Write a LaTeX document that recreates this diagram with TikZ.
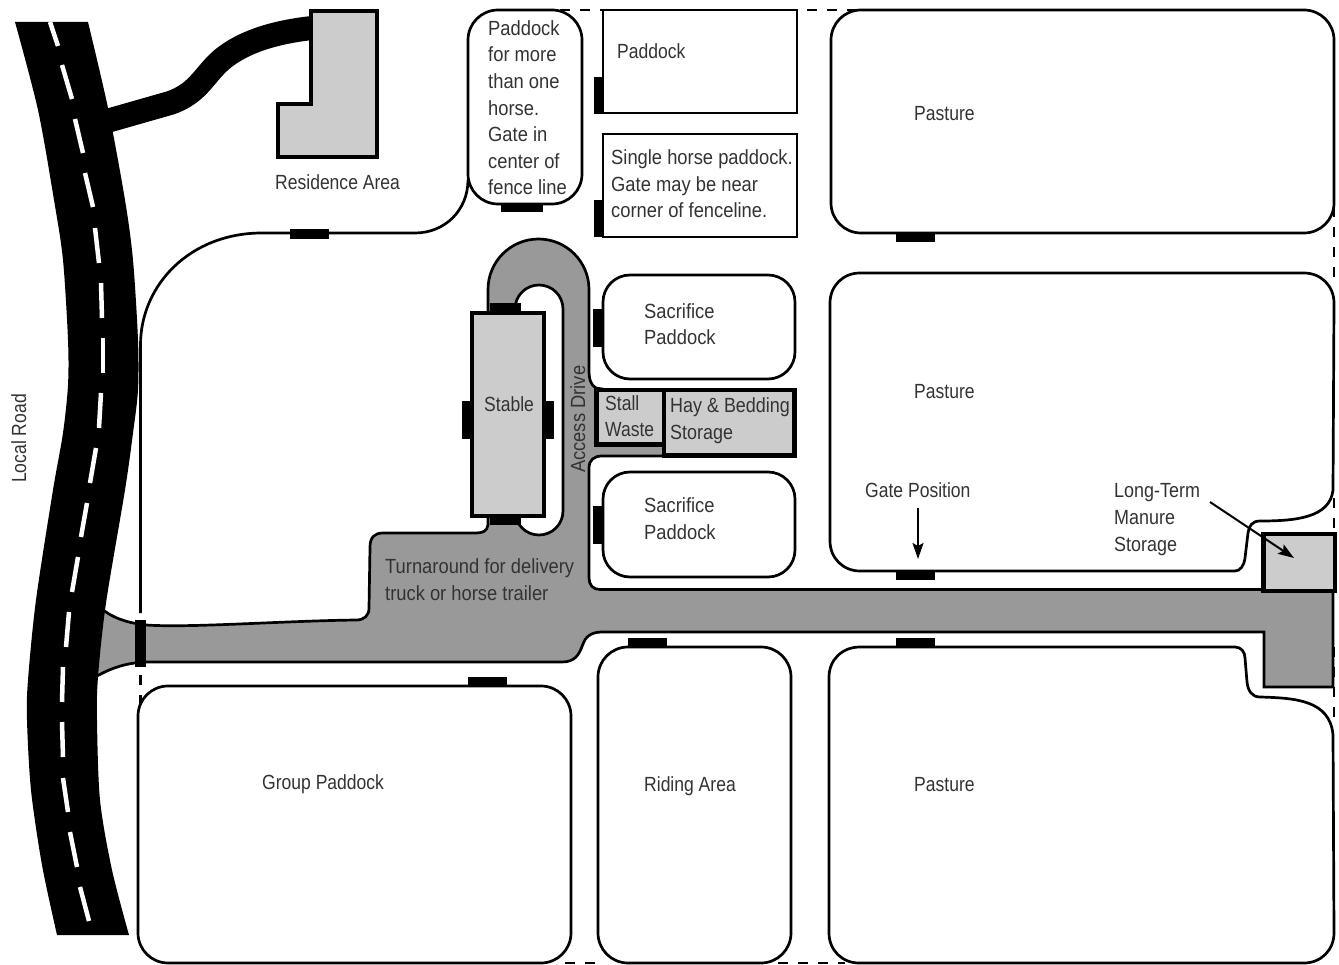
\documentclass[tikz,border=0pt]{standalone}
\usepackage{fontspec}
\setmainfont[FakeStretch=0.855]{Liberation Sans}
\newfontfamily\widerface[FakeStretch=0.895]{Liberation Sans}
\newfontfamily\midface[FakeStretch=0.875]{Liberation Sans}
\usetikzlibrary{arrows.meta}
\definecolor{drivegray}{HTML}{999999}
\definecolor{bldggray}{HTML}{CCCCCC}
\definecolor{labelink}{HTML}{333333}
\tikzset{
  fence/.style={draw=black,line width=2.7pt,fill=white},
  fenceline/.style={draw=black,line width=2.7pt},
  perimeter/.style={draw=black,line width=2.7pt,dash pattern=on 10pt off 10pt},
  building/.style={draw=black,line width=4.6pt,fill=bldggray,miter limit=10},
  gatebar/.style={fill=black},
  lbl/.style={anchor=base west,inner sep=0pt,text=labelink,align=left,font=\fontsize{20.5}{26.6}\selectfont},
  lblwide/.style={lbl,font=\widerface\fontsize{20.5}{26.6}\selectfont},
  lblmid/.style={lbl,font=\midface\fontsize{20.5}{26.6}\selectfont},
  pointer/.style={draw=black,line width=2pt,-{Stealth[length=16pt,width=11pt,inset=3pt]}}
}
\begin{document}
\begin{tikzpicture}[x=1pt,y=-1pt]
\useasboundingbox (0,0) rectangle (1339,965);
% perimeter dashes
\draw[perimeter] (140.5,675) -- (140.5,720);
\draw[perimeter] (560,10) -- (603,10);
\draw[perimeter] (807,10) -- (855,10);
\draw[perimeter] (1334,207) -- (1334,280);
\draw[perimeter] (1334,498) -- (1334,530);
\draw[perimeter] (1334,647) -- (1334,720);
\draw[perimeter] (565,963) -- (600,963);
\draw[perimeter] (778,963) -- (845,963);
% residence fence line
\draw[fenceline] (140.5,613) -- (140.5,345) .. controls (140.5,285) and (190,233) .. (262,233) -- (415,233) .. controls (445,233) and (468,210) .. (468,180);
% pastures and paddocks
\draw[fence,rounded corners=30pt] (831,10) rectangle (1334,233);
\draw[fence] (860,273) -- (1304,273) .. controls (1321,273) and (1334,286) .. (1334,303) -- (1333,490)
  .. controls (1330,518) and (1295,521) .. (1260,521) .. controls (1252,521) and (1249,526) .. (1248,533)
  -- (1245,558) .. controls (1244,566) and (1240,571) .. (1235,571) -- (860,571)
  .. controls (843,571) and (830,558) .. (830,541) -- (830,303) .. controls (830,286) and (843,273) .. (860,273) -- cycle;
\draw[fence] (860,647) -- (1235,647) .. controls (1241,647) and (1245,652) .. (1245,658)
  -- (1247,682) .. controls (1248,691) and (1252,697) .. (1260,697) .. controls (1295,698) and (1330,700) .. (1333,735)
  -- (1334,933) .. controls (1334,950) and (1321,963) .. (1304,963) -- (859,963)
  .. controls (842,963) and (829,950) .. (829,933) -- (829,677) .. controls (829,660) and (842,647) .. (860,647) -- cycle;
\draw[fence,rounded corners=30pt] (138,686) rectangle (571,963);
\draw[fence,rounded corners=30pt] (598,647) rectangle (791,963);
\draw[fence,rounded corners=27pt] (603,275) rectangle (795,379);
\draw[fence,rounded corners=27pt] (603,472) rectangle (795,577);
\draw[fence] (603,10) rectangle (797,113);
\draw[fence] (603,134) rectangle (797,237);
\draw[fence,rounded corners=30pt] (468,10) rectangle (582,204);
% drive
\draw[fence,fill=drivegray] (90,595) .. controls (100,612) and (118,622) .. (146,625)
  .. controls (190,628) and (280,621) .. (356,620) .. controls (364,620) and (369,616) .. (369,608)
  -- (370,547) .. controls (370,538) and (374,533) .. (383,533) -- (476,533)
  .. controls (483,533) and (487,531) .. (488,525) -- (488,289.5)
  arc[start angle=180,end angle=360,radius=50.5] -- (589,370)
  .. controls (589,380) and (591,385) .. (596,388) -- (670,400) -- (670,456) -- (602,456)
  .. controls (594,456) and (589,460) .. (589,468) -- (589,578) .. controls (589,585) and (593,589.5) .. (600,589.5)
  -- (1333,589.5) -- (1333,687) -- (1264,687) -- (1264,632) -- (602,632)
  .. controls (590,632) and (585,638) .. (583,644) .. controls (579,655) and (575,662) .. (562,662)
  -- (146,662) .. controls (125,663) and (110,668) .. (90,680) -- cycle;
\draw[fence] (515,309) arc[start angle=180,end angle=360,radius=24] -- (563,511) arc[start angle=0,end angle=180,radius=24] -- cycle;
% road
\fill[black] plot[smooth] coordinates {(15,22) (38,110) (54,200) (63,260) (68,340) (68,385) (63,433) (53,490) (36,600) (28,680) (27,720) (31,790) (42,865) (57,935)}
  -- plot[smooth] coordinates {(129,935) (112,870) (100,800) (97,720) (98,677) (106,603) (125,490) (133,433) (138,390) (138,340) (133,260) (125,200) (108,108) (88,22)} -- cycle;
\foreach \xa/\ya/\xb/\yb in {50/22/58/46,62/65/72/99,75/119/83/153,85/173/93/207,95/228/99/263,101/283/102/318,103/338/103/373,101/393/99/428,96/448/90/483,87/503/81/537,78/557/72/592,69/612/66/647,63/667/62/702,62/722/63/757,63/778/68/812,70/832/77/867,80/887/89/921}
  \draw[white,line width=4.5pt] (\xa,\ya) -- (\xb,\yb);
% residence drive and building
\draw[black,line width=24pt] (100,123) -- (170,103) .. controls (200,93) and (205,72) .. (225,57) .. controls (250,38) and (285,31) .. (312,28);
\draw[building] (311,11) -- (377,11) -- (377,157) -- (278,157) -- (278,104) -- (311,104) -- cycle;
% stable, storage
\draw[building] (472,313) rectangle (544,516);
\draw[building] (596.5,390) rectangle (664,444.5);
\draw[building] (664,390) rectangle (794.5,455.5);
\draw[building] (1263.5,534) rectangle (1335,591);
% gates
\foreach \x/\y/\w/\h in {290/229/39/10, 501/203/42/9, 594/77/10/37, 594/200/10/37, 593/309/11/38, 593/506/11/38, 896/233/39/9, 896/571/39/9, 896/638/39/9, 628/638/39/9, 468/677/39/9, 490/303/31/10, 490/516/31/9, 462/401/10/38, 543/401/11/38, 135/620/11/47}
  \fill[gatebar] (\x,\y) rectangle ++(\w,\h);
% labels
\node[lbl] (residence) at (275,190) {Residence Area};
\node[lblwide] (pmore) at (488,195) {Paddock\\for more\\than one\\horse.\\Gate in\\center of\\fence line};
\node[lbl] (paddock) at (617,59) {Paddock};
\node[lblwide] (single) at (611,218) {Single horse paddock.\\Gate may be near\\corner of fenceline.};
\node[lbl] (past1) at (914,121) {Pasture};
\node[lbl] (past2) at (914,399) {Pasture};
\node[lbl] (past3) at (914,791) {Pasture};
\node[lblwide] (sac1) at (644,345) {Sacrifice\\Paddock};
\node[lblwide] (sac2) at (644,539) {Sacrifice\\Paddock};
\node[lbl] (stable) at (484,412) {Stable};
\node[lbl] (stall) at (605,437) {Stall\\Waste};
\node[lblmid] (hay) at (670,439) {Hay \& Bedding\\Storage};
\node[lblwide,rotate=90] (access) at (585,473) {Access Drive};
\node[lbl] (gatepos) at (865,497) {Gate Position};
\node[lblmid] (ltm) at (1114,551) {Long-Term\\Manure\\Storage};
\node[lblwide] (turn) at (385,600) {Turnaround for delivery\\truck or horse trailer};
\node[lbl] (group) at (262,789) {Group Paddock};
\node[lbl] (riding) at (644,791) {Riding Area};
\node[lbl,rotate=90] (local) at (26,483) {Local Road};
% pointers
\coordinate (gatetip) at (918,559);
\coordinate (manuretip) at (1294,558);
\draw[pointer] (918,508) -- (gatetip);
\draw[pointer] (1210,502) -- (manuretip);
\end{tikzpicture}
\end{document}
